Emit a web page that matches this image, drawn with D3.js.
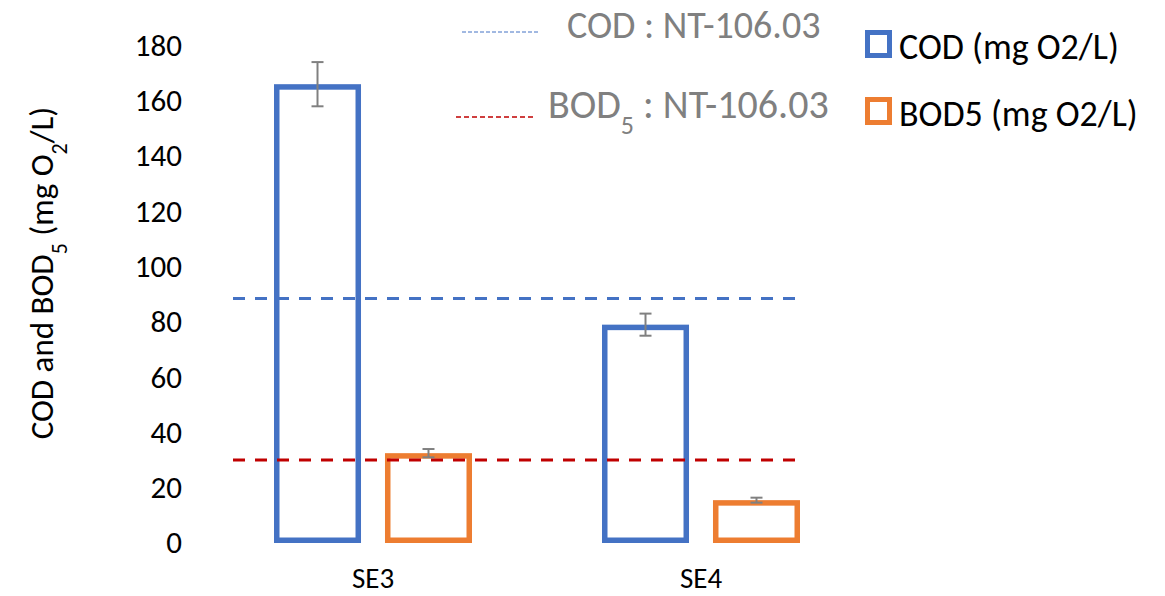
<!DOCTYPE html>
<html>
<head>
<meta charset="utf-8">
<script src="https://cdn.jsdelivr.net/npm/d3@7"></script>
<style>
  body { margin: 0; background: #fff; }
  text { font-family: Calibri, Carlito, "Open Sans", sans-serif; }
</style>
</head>
<body>
<div id="chart"></div>
<script>
// chart data
var sites = ["SE3", "SE4"];
var seriesNames = ["COD (mg O2/L)", "BOD5 (mg O2/L)"];
var codValues = [166, 79];
var codErrors = [8, 4];
var bodValues = [32.5, 15.5];
var bodErrors = [1.5, 0.9];
var yTicks = [0, 20, 40, 60, 80, 100, 120, 140, 160, 180];
var limitCOD = 88.5;
var limitBOD = 30;

var colors = { cod: "#4472C4", bod: "#ED7D31", err: "#808080", red: "#C00000" };
var font = "Calibri, Carlito, 'Open Sans', sans-serif";

var w = 1165, h = 596;
var svg = d3.select("#chart").append("svg")
  .attr("width", w)
  .attr("height", h);

// scales
var x = d3.scaleBand().domain(sites).range([209, 865]);
var sub = d3.scaleBand().domain(["cod", "bod"]).range([65, 263]).paddingInner(0.216);
var y = d3.scaleLinear().domain([0, 180]).range([543, 45.5]);

// y axis (labels only, no line)
var yAxis = svg.append("g")
  .attr("transform", "translate(190,0)")
  .call(d3.axisLeft(y).tickValues(yTicks).tickSize(0).tickPadding(8));
yAxis.select(".domain").remove();
yAxis.selectAll("text").style("font-size", "31px").attr("fill", "#000")
  .style("font-family", font);

// x category labels
svg.selectAll("text.cat").data(sites).enter().append("text")
  .attr("class", "cat")
  .attr("x", function(d) { return x(d) + x.bandwidth() / 2; })
  .attr("y", 588)
  .attr("text-anchor", "middle")
  .style("font-size", "29px")
  .attr("fill", "#000")
  .text(function(d) { return d; });

// y axis title
var title = svg.append("text")
  .attr("transform", "translate(53,273) rotate(-90)")
  .attr("text-anchor", "middle")
  .style("font-size", "33px")
  .attr("fill", "#000");
title.append("tspan").text("COD and BOD");
title.append("tspan").text("5").attr("baseline-shift", "sub").style("font-size", "22px");
title.append("tspan").text(" (mg O");
title.append("tspan").text("2").attr("baseline-shift", "sub").style("font-size", "22px");
title.append("tspan").text("/L)");

// bars
var bars = [];
sites.forEach(function(s, i) {
  bars.push({ site: s, key: "cod", v: codValues[i], e: codErrors[i] });
  bars.push({ site: s, key: "bod", v: bodValues[i], e: bodErrors[i] });
});

var sw = 5.5;
svg.selectAll("rect.bar").data(bars).enter().append("rect")
  .attr("class", "bar")
  .attr("x", function(d) { return x(d.site) + sub(d.key) + sw / 2; })
  .attr("y", function(d) { return y(d.v) + sw / 2; })
  .attr("width", sub.bandwidth() - sw)
  .attr("height", function(d) { return y(0) - y(d.v) - sw; })
  .attr("fill", "none")
  .attr("stroke", function(d) { return colors[d.key]; })
  .attr("stroke-width", sw);

// limit lines
svg.append("line")
  .attr("x1", 233).attr("x2", 800)
  .attr("y1", y(limitCOD)).attr("y2", y(limitCOD))
  .attr("stroke", colors.cod).attr("stroke-width", 3)
  .attr("stroke-dasharray", "12,10");
svg.append("line")
  .attr("x1", 233).attr("x2", 800)
  .attr("y1", y(limitBOD)).attr("y2", y(limitBOD))
  .attr("stroke", colors.red).attr("stroke-width", 3)
  .attr("stroke-dasharray", "12,10");

// error bars
var eb = svg.selectAll("g.err").data(bars).enter().append("g").attr("class", "err");
function cx(d) { return x(d.site) + sub(d.key) + sub.bandwidth() / 2; }
eb.append("line")
  .attr("x1", cx).attr("x2", cx)
  .attr("y1", function(d) { return y(d.v - d.e); })
  .attr("y2", function(d) { return y(d.v + d.e); })
  .attr("stroke", colors.err).attr("stroke-width", 2);
[-1, 1].forEach(function(sgn) {
  eb.append("line")
    .attr("x1", function(d) { return cx(d) - 6; })
    .attr("x2", function(d) { return cx(d) + 6; })
    .attr("y1", function(d) { return y(d.v + sgn * d.e); })
    .attr("y2", function(d) { return y(d.v + sgn * d.e); })
    .attr("stroke", colors.err).attr("stroke-width", 2);
});

// annotation of the standard
svg.append("line").attr("x1", 462).attr("x2", 538).attr("y1", 32).attr("y2", 32)
  .attr("stroke", colors.cod).attr("stroke-width", 1).attr("stroke-dasharray", "4,2");
svg.append("text").attr("x", 567).attr("y", 38)
  .style("font-size", "38px").attr("fill", "#808080").text("COD : NT-106.03");

svg.append("line").attr("x1", 456).attr("x2", 535).attr("y1", 117).attr("y2", 117)
  .attr("stroke", colors.red).attr("stroke-width", 1.3).attr("stroke-dasharray", "5,3");
var bt = svg.append("text").attr("x", 548).attr("y", 118)
  .style("font-size", "40px").attr("fill", "#808080");
bt.append("tspan").text("BOD");
bt.append("tspan").text("5").attr("baseline-shift", "sub").style("font-size", "26px");
bt.append("tspan").text(" : NT-106.03");

// legend
var legend = svg.selectAll("g.legend").data(["cod", "bod"]).enter().append("g")
  .attr("class", "legend")
  .attr("transform", function(d, i) { return "translate(865," + (30 + i * 67) + ")"; });
legend.append("rect")
  .attr("x", 2.5).attr("y", 2.5).attr("width", 22).attr("height", 23)
  .attr("fill", "none")
  .attr("stroke", function(d) { return colors[d]; })
  .attr("stroke-width", 5);
legend.append("text")
  .attr("x", 34).attr("y", 29)
  .style("font-size", "36px").attr("fill", "#000")
  .text(function(d, i) { return seriesNames[i]; });
</script>
</body>
</html>
